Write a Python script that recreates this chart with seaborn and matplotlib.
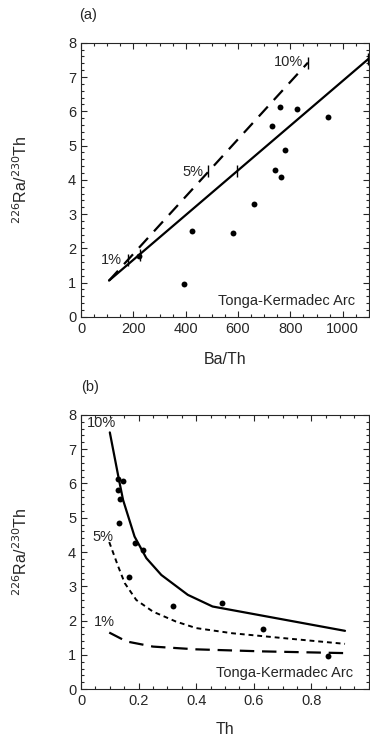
import numpy as np
import pandas as pd
import seaborn as sns
import matplotlib.pyplot as plt
from matplotlib.ticker import MultipleLocator

# panel (a) data: Ba/Th vs 226Ra/230Th
ba_th = [395, 424, 580, 660, 730, 760, 740, 763, 778, 826, 945, 220]
ra_th_a = [0.97, 2.52, 2.45, 3.29, 5.56, 6.12, 4.28, 4.07, 4.86, 6.08, 5.82, 1.77]

# model lines in panel (a)
solid_a_x = [107, 1100]
solid_a_y = [1.06, 7.54]
dash_a_x = [107, 867]
dash_a_y = [1.06, 7.42]
solid_a_tick_x = [225, 597, 1097]
solid_a_tick_y = [1.80, 4.25, 7.52]
dash_a_tick_x = [180, 486, 867]
dash_a_tick_y = [1.65, 4.25, 7.42]

# panel (b) data: Th vs 226Ra/230Th
th = [0.129, 0.146, 0.129, 0.137, 0.132, 0.189, 0.217, 0.168, 0.321, 0.489, 0.633, 0.857]
ra_th_b = [6.13, 6.08, 5.81, 5.55, 4.86, 4.26, 4.06, 3.28, 2.43, 2.51, 1.75, 0.97]

curve10_x = [0.100, 0.132, 0.146, 0.186, 0.227, 0.279, 0.371, 0.457, 0.917]
curve10_y = [7.49, 6.10, 5.52, 4.45, 3.82, 3.33, 2.75, 2.41, 1.70]
curve5_x = [0.098, 0.129, 0.152, 0.192, 0.25, 0.33, 0.40, 0.525, 0.70, 0.917]
curve5_y = [4.29, 3.58, 3.09, 2.60, 2.26, 1.97, 1.78, 1.63, 1.49, 1.32]
curve1_x = [0.098, 0.158, 0.25, 0.40, 0.632, 0.917]
curve1_y = [1.65, 1.39, 1.24, 1.16, 1.10, 1.05]

sns.set_style("ticks")
plt.rcParams['font.family'] = ['Liberation Sans', 'DejaVu Sans']
plt.rcParams['font.size'] = 10.5

fig = plt.figure(figsize=(3.7, 7.37), dpi=100)
ax1 = fig.add_axes([0.219, 0.570, 0.778, 0.372])
ax2 = fig.add_axes([0.219, 0.065, 0.778, 0.372])

ylab = r'$^{226}$Ra/$^{230}$Th'


def style_axis(ax):
    ax.tick_params(which='both', direction='in', top=True, right=True, labelsize=10.5, width=0.8)
    ax.tick_params(which='major', length=4)
    ax.tick_params(which='minor', length=2)
    ax.yaxis.set_major_locator(MultipleLocator(1))
    ax.yaxis.set_minor_locator(MultipleLocator(0.2))
    for s in ax.spines.values():
        s.set_linewidth(0.8)
    ax.set_ylim(0, 8)
    ax.set_ylabel(ylab, fontsize=11.5, labelpad=27)


# (a)
sns.lineplot(x=solid_a_x, y=solid_a_y, ax=ax1, color='black', lw=1.6)
sns.lineplot(x=dash_a_x, y=dash_a_y, ax=ax1, color='black', lw=1.6)
ax1.lines[-1].set_dashes([6, 4])
ax1.plot(solid_a_tick_x, solid_a_tick_y, ls='none', marker='|', ms=9, mew=1, color='black')
ax1.plot(dash_a_tick_x, dash_a_tick_y, ls='none', marker='|', ms=9, mew=1, color='black')
sns.scatterplot(x=ba_th, y=ra_th_a, ax=ax1, color='black', s=18, edgecolor='black', linewidth=0)
ax1.set_xlim(0, 1100)
ax1.xaxis.set_major_locator(MultipleLocator(200))
ax1.xaxis.set_minor_locator(MultipleLocator(50))
style_axis(ax1)
ax1.set_xlabel('Ba/Th', fontsize=11.5, labelpad=12)
ax1.text(793, 7.44, '10%', ha='center', va='center', fontsize=10.5)
ax1.text(427, 4.22, '5%', ha='center', va='center', fontsize=10.5)
ax1.text(117, 1.67, '1%', ha='center', va='center', fontsize=10.5)
ax1.text(1048, 0.47, 'Tonga-Kermadec Arc', ha='right', va='center', fontsize=10.5)
fig.text(0.238, 0.980, '(a)', ha='center', va='center', fontsize=10.5)

# (b)
sns.lineplot(x=curve10_x, y=curve10_y, ax=ax2, color='black', lw=1.6, sort=False)
sns.lineplot(x=curve5_x, y=curve5_y, ax=ax2, color='black', lw=1.4, sort=False)
ax2.lines[-1].set_dashes([2.5, 2])
sns.lineplot(x=curve1_x, y=curve1_y, ax=ax2, color='black', lw=1.6, sort=False)
ax2.lines[-1].set_dashes([6.5, 3.5])
sns.scatterplot(x=th, y=ra_th_b, ax=ax2, color='black', s=18, edgecolor='black', linewidth=0)
ax2.set_xlim(0, 1.0)
ax2.xaxis.set_minor_locator(MultipleLocator(0.05))
ax2.set_xticks([0, 0.2, 0.4, 0.6, 0.8])
ax2.set_xticklabels(['0', '0.2', '0.4', '0.6', '0.8'])
style_axis(ax2)
ax2.set_xlabel('Th', fontsize=11.5, labelpad=10)
ax2.text(0.072, 7.75, '10%', ha='center', va='center', fontsize=10.5)
ax2.text(0.077, 4.45, '5%', ha='center', va='center', fontsize=10.5)
ax2.text(0.080, 1.95, '1%', ha='center', va='center', fontsize=10.5)
ax2.text(0.946, 0.47, 'Tonga-Kermadec Arc', ha='right', va='center', fontsize=10.5)
fig.text(0.243, 0.475, '(b)', ha='center', va='center', fontsize=10.5)

fig.savefig('out.png', dpi=100)
